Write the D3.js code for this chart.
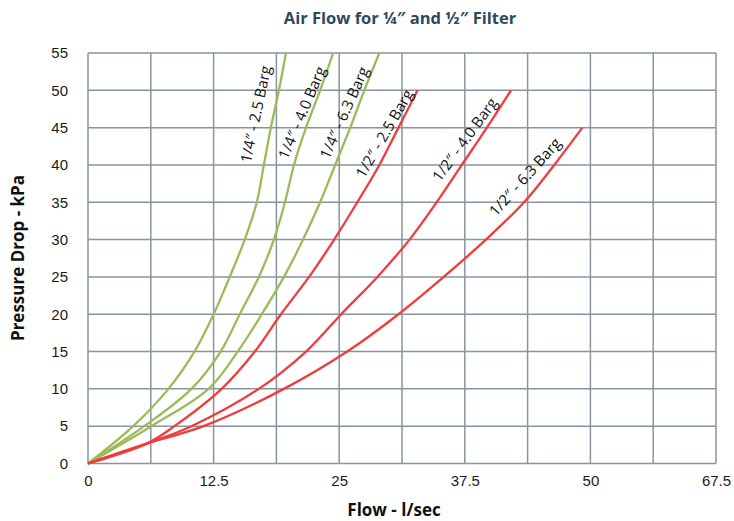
<!DOCTYPE html>
<html lang="en">
<head>
    <meta charset="UTF-8">
    <title>Air Flow for 1/4 and 1/2 Filter</title>
    <script src="https://d3js.org/d3.v7.min.js"></script>
    <style>
        body { margin: 0; background: #fff; }
        svg { font-family: "Open Sans", "Noto Sans", sans-serif; }
        .grid line { stroke: #8794a1; stroke-width: 1.5; }
        .axis path, .axis line { display: none; }
        .axis text { font-size: 15px; fill: #1a1a1a; }
        .curve { fill: none; stroke-width: 2.3; stroke-linejoin: round; }
        .lbl { font-size: 15px; fill: #111; }
    </style>
</head>
<body>
<svg width="734" height="521"></svg>
<script>
    // flow (l/sec) and pressure drop (kPa)
    var quarter25 = [[0, 0], [4.5, 5], [8.0, 10], [10.6, 15], [12.5, 20], [14.1, 25], [15.6, 30], [16.8, 35], [17.5, 40], [18.2, 45], [19.0, 50], [19.7, 55]];
    var quarter40 = [[0, 0], [5.6, 5], [10.3, 10], [13.2, 15], [15.1, 20], [17.0, 25], [18.5, 30], [19.6, 35], [20.5, 40], [21.7, 45], [23.1, 50], [24.4, 55]];
    var quarter63 = [[0, 0], [6.3, 5], [12.0, 10], [14.9, 15], [17.3, 20], [19.5, 25], [21.4, 30], [23.1, 35], [24.6, 40], [26.1, 45], [27.5, 50], [29.0, 55]];
    var half25 = [[0, 0], [5.9, 2.7], [8.6, 5], [13.3, 10], [16.6, 15], [19.2, 20], [22.0, 25], [24.5, 30], [26.8, 35], [29.0, 40], [30.9, 45], [32.8, 50]];
    var half40 = [[0, 0], [5.9, 2.7], [10.3, 5], [17.0, 10], [21.7, 15], [25.2, 20], [28.8, 25], [32.0, 30], [34.7, 35], [37.2, 40], [39.7, 45], [42.1, 50]];
    var half63 = [[0, 0], [5.9, 2.7], [11.5, 5], [19.5, 10], [25.8, 15], [30.9, 20], [35.4, 25], [39.6, 30], [43.4, 35], [46.4, 40], [49.2, 45]];

    var seriesNames = ['1/4\u2033 - 2.5 Barg', '1/4\u2033 - 4.0 Barg', '1/4\u2033 - 6.3 Barg',
                       '1/2\u2033 - 2.5 Barg', '1/2\u2033 - 4.0 Barg', '1/2\u2033 - 6.3 Barg'];
    var seriesData = [quarter25, quarter40, quarter63, half25, half40, half63];
    var seriesColors = ['#9bbb59', '#9bbb59', '#9bbb59', '#f03c3c', '#f03c3c', '#f03c3c'];

    // where each curve label sits (flow, kPa) and its slope angle
    var labelAt = [[16.7, 46.8], [21.3, 47.0], [25.5, 47.0], [29.5, 44.2], [37.5, 43.4], [43.5, 38.4]];
    var labelAngle = [-78, -67, -66, -60, -54, -48];

    var xTicks = [0, 12.5, 25, 37.5, 50, 62.5];
    var xTickLabels = ['0', '12.5', '25', '37.5', '50', '67.5'];
    var yTicks = [0, 5, 10, 15, 20, 25, 30, 35, 40, 45, 50, 55];

    var svg = d3.select('svg');
    var plotLeft = 88, plotRight = 716, plotTop = 53, plotBottom = 463.5;

    var x = d3.scaleLinear().domain([0, 62.5]).range([plotLeft, plotRight]);
    var y = d3.scaleLinear().domain([0, 55]).range([plotBottom, plotTop]);

    // grid
    var grid = svg.append('g').attr('class', 'grid');
    grid.selectAll('.gx')
            .data(d3.range(0, 62.5 + 0.01, 6.25))
            .enter().append('line')
            .attr('x1', function (d) { return x(d); })
            .attr('x2', function (d) { return x(d); })
            .attr('y1', plotTop).attr('y2', plotBottom);
    grid.selectAll('.gy')
            .data(yTicks)
            .enter().append('line')
            .attr('x1', plotLeft).attr('x2', plotRight)
            .attr('y1', function (d) { return y(d); })
            .attr('y2', function (d) { return y(d); });

    // axes
    svg.append('g')
            .attr('class', 'axis')
            .attr('transform', 'translate(0,' + plotBottom + ')')
            .call(d3.axisBottom(x).tickValues(xTicks).tickSize(0).tickPadding(12)
                    .tickFormat(function (d, i) { return xTickLabels[i]; }));

    svg.append('g')
            .attr('class', 'axis')
            .attr('transform', 'translate(' + plotLeft + ',0)')
            .call(d3.axisLeft(y).tickValues(yTicks).tickSize(0).tickPadding(20));

    // curves
    var line = d3.line()
            .x(function (d) { return x(d[0]); })
            .y(function (d) { return y(d[1]); })
            .curve(d3.curveCatmullRom.alpha(0.5));

    svg.selectAll('.curve')
            .data(seriesData)
            .enter().append('path')
            .attr('class', 'curve')
            .attr('stroke', function (d, i) { return seriesColors[i]; })
            .attr('d', line);

    svg.selectAll('.lbl')
            .data(seriesNames)
            .enter().append('text')
            .attr('class', 'lbl')
            .attr('text-anchor', 'middle')
            .attr('dy', '0.35em')
            .attr('transform', function (d, i) {
                return 'translate(' + x(labelAt[i][0]) + ',' + y(labelAt[i][1]) + ') rotate(' + labelAngle[i] + ')';
            })
            .text(function (d) { return d; });

    // titles
    svg.append('text')
            .attr('x', 400).attr('y', 24)
            .attr('text-anchor', 'middle')
            .style('font-size', '16.5px').style('font-weight', 'bold').style('fill', '#2c4a5c')
            .text('Air Flow for \u00bc\u2033 and \u00bd\u2033 Filter');

    svg.append('text')
            .attr('x', 394).attr('y', 516)
            .attr('text-anchor', 'middle')
            .style('font-size', '17px').style('font-weight', 'bold').style('fill', '#111')
            .text('Flow - l/sec');

    svg.append('text')
            .attr('transform', 'translate(24,258) rotate(-90)')
            .attr('text-anchor', 'middle')
            .style('font-size', '17px').style('font-weight', 'bold').style('fill', '#111')
            .text('Pressure Drop - kPa');
</script>
</body>
</html>
